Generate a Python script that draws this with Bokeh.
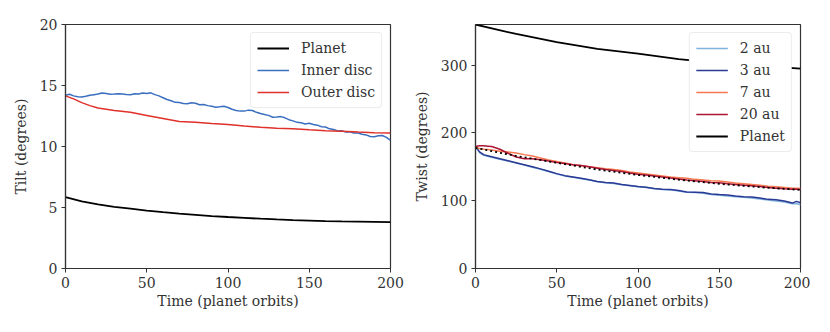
from bokeh.plotting import figure
from bokeh.layouts import row
from bokeh.models import Legend, LegendItem, FixedTicker
from bokeh.embed import file_html
from bokeh.resources import INLINE

# ---------------- data: tilt (left panel) ----------------
t_planet_tilt = [0, 10, 20, 30, 40, 50, 60, 70, 80, 90, 100, 110, 120, 130, 140, 150, 160, 170, 180, 190, 200]
tilt_planet = [5.85, 5.5, 5.25, 5.05, 4.9, 4.75, 4.62, 4.5, 4.4, 4.3, 4.22, 4.15, 4.08, 4.02, 3.97, 3.93, 3.89, 3.86, 3.84, 3.82, 3.8]

t_outer = [0, 5, 10, 15, 20, 25, 30, 40, 50, 60, 70, 80, 90, 100, 110, 120, 130, 140, 150, 160, 170, 180, 190, 200]
tilt_outer = [14.15, 13.9, 13.6, 13.35, 13.15, 13.05, 12.95, 12.8, 12.55, 12.3, 12.05, 11.98, 11.88, 11.8, 11.68, 11.58, 11.5, 11.45, 11.37, 11.3, 11.25, 11.18, 11.13, 11.1]

t_inner = [i * 2.5 for i in range(81)]
tilt_inner = [14.20, 14.28, 14.15, 14.08, 14.05, 14.12, 14.20, 14.25, 14.30, 14.38,
              14.35, 14.28, 14.30, 14.33, 14.30, 14.27, 14.25, 14.32, 14.30, 14.38,
              14.35, 14.40, 14.25, 14.15, 14.00, 13.85, 13.75, 13.62, 13.60, 13.52,
              13.50, 13.58, 13.55, 13.42, 13.45, 13.35, 13.30, 13.22, 13.25, 13.30,
              13.20, 13.05, 12.95, 12.90, 12.90, 12.98, 12.95, 12.80, 12.70, 12.62,
              12.55, 12.40, 12.42, 12.45, 12.35, 12.20, 12.10, 11.98, 11.95, 11.85,
              11.90, 11.80, 11.75, 11.62, 11.60, 11.45, 11.40, 11.28, 11.30, 11.18,
              11.20, 11.10, 11.10, 11.00, 10.95, 10.82, 10.80, 10.88, 10.90, 10.75,
              10.50]

# ---------------- data: twist (right panel) ----------------
t_twist = [0, 2.5, 5, 7.5, 10] + list(range(15, 200, 5)) + [197.5, 200]
twist_2au = [180, 171, 167, 165.5, 164, 161, 158.5, 155.5, 152.5, 149.5, 146.5, 143, 139.5, 136.5, 134.5,
             132.5, 130.5, 128, 126.5, 125.5, 123.5, 122, 120.5, 119.5, 117.5, 116.5, 116, 114.5, 112.5, 112,
             111, 109, 108, 107, 106, 105, 104, 102.5, 101, 99.5, 98, 95.5, 96, 94]
twist_3au = [180, 172, 168, 166.5, 165, 162, 159, 156, 153, 150, 147, 143.5, 140, 137, 135,
             133, 131, 128.5, 127, 126, 124, 122.5, 121, 120, 118, 117, 116.5, 115, 113, 112.5,
             112, 110, 109, 108.5, 107, 106, 105.5, 104, 102, 101.5, 99.5, 96.5, 99, 97]
twist_7au = [178, 177, 176, 175.5, 175, 173, 172, 170.5, 168, 166, 163, 160, 158, 155.5, 153,
             151.5, 150, 148.5, 147, 146, 144.5, 142.5, 141, 139.5, 138, 136.5, 135, 134, 133, 131.5,
             130.5, 129.5, 129, 127.5, 126, 125, 124, 123, 121.5, 120.5, 119.5, 118.5, 118.5, 118]
twist_20au = [180, 181, 181, 180.5, 180, 176, 170, 164.5, 162, 162, 160.5, 158.5, 156.5, 155, 153,
              152, 150, 148, 146, 144.5, 143, 141, 139, 138, 136.5, 135, 133.5, 132, 130.5, 129.5,
              128.5, 127, 126.5, 125, 124, 123, 122, 121, 119.5, 118.5, 117.5, 117, 117, 116.5]

t_fit = [0, 25, 50, 75, 100, 125, 150, 175, 200]
twist_fit = [178, 166, 156, 146, 138, 131, 125, 120, 116]

t_planet_twist = [0, 25, 50, 75, 100, 125, 150, 175, 200]
twist_planet = [360, 346, 334, 324, 317, 309, 303, 299, 295]

x_ticks = [0, 50, 100, 150, 200]
tilt_ticks = [0, 5, 10, 15, 20]
twist_ticks = [0, 100, 200, 300]

FONT = "DejaVu Serif"
FS = "14px"
TXT = "#333333"


def style(p, yticks, ylabel):
    p.xaxis.ticker = FixedTicker(ticks=x_ticks)
    p.yaxis.ticker = FixedTicker(ticks=yticks)
    p.xaxis.axis_label = "Time (planet orbits)"
    p.yaxis.axis_label = ylabel
    for ax in (p.xaxis[0], p.yaxis[0]):
        ax.axis_label_text_font = FONT
        ax.axis_label_text_font_size = FS
        ax.axis_label_text_font_style = "normal"
        ax.axis_label_text_color = TXT
        ax.major_label_text_font = FONT
        ax.major_label_text_font_size = FS
        ax.major_label_text_color = TXT
        ax.major_tick_in = 0
        ax.major_tick_out = 4
        ax.minor_tick_in = 0
        ax.minor_tick_out = 0
        ax.axis_line_color = "#333333"
        ax.major_tick_line_color = "#333333"
        ax.axis_line_width = 1.2
    p.xaxis.axis_label_standoff = 2
    p.yaxis.axis_label_standoff = 8
    p.xaxis.major_label_standoff = 4
    p.yaxis.major_label_standoff = 4
    p.xgrid.visible = False
    p.ygrid.visible = False
    p.outline_line_color = "#333333"
    p.outline_line_width = 1.2
    p.outline_line_alpha = 1.0


def make_legend(p, items):
    lg = Legend(items=items, location="top_right")
    lg.label_text_font = FONT
    lg.label_text_font_size = FS
    lg.label_text_color = TXT
    lg.border_line_color = "#d9d9d9"
    lg.border_line_width = 1
    lg.border_radius = 4
    lg.background_fill_alpha = 1.0
    lg.glyph_width = 32
    lg.glyph_height = 18
    lg.label_height = 18
    lg.label_standoff = 12
    lg.spacing = 4
    lg.padding = 6
    lg.margin = 8
    p.add_layout(lg)


# ---------------- left panel ----------------
p1 = figure(width=410, height=318, output_backend="svg", toolbar_location=None,
            x_range=(0, 200), y_range=(0, 20),
            min_border_left=65, min_border_right=20, min_border_top=24, min_border_bottom=50)
r_p = p1.line(t_planet_tilt, tilt_planet, line_color="black", line_width=1.8)
r_i = p1.line(t_inner, tilt_inner, line_color="#3a6fc0", line_width=1.5)
r_o = p1.line(t_outer, tilt_outer, line_color="#e0302a", line_width=1.5)
style(p1, tilt_ticks, "Tilt (degrees)")
make_legend(p1, [LegendItem(label="Planet", renderers=[r_p]),
                 LegendItem(label="Inner disc", renderers=[r_i]),
                 LegendItem(label="Outer disc", renderers=[r_o])])

# ---------------- right panel ----------------
p2 = figure(width=400, height=318, output_backend="svg", toolbar_location=None,
            x_range=(0, 200), y_range=(0, 360),
            min_border_left=65, min_border_right=10, min_border_top=24, min_border_bottom=50)
r2 = p2.line(t_twist, twist_2au, line_color="#7fb2dd", line_width=1.5)
r3 = p2.line(t_twist, twist_3au, line_color="#2b3a94", line_width=1.5)
r7 = p2.line(t_twist, twist_7au, line_color="#f7794f", line_width=1.5)
r20 = p2.line(t_twist, twist_20au, line_color="#ad1535", line_width=1.5)
p2.line(t_fit, twist_fit, line_color="black", line_width=1.8, line_dash="2 3")
rp = p2.line(t_planet_twist, twist_planet, line_color="black", line_width=1.8)
style(p2, twist_ticks, "Twist (degrees)")
make_legend(p2, [LegendItem(label="2 au", renderers=[r2]),
                 LegendItem(label="3 au", renderers=[r3]),
                 LegendItem(label="7 au", renderers=[r7]),
                 LegendItem(label="20 au", renderers=[r20]),
                 LegendItem(label="Planet", renderers=[rp])])

layout = row(p1, p2)
open("out.html", "w").write(file_html(layout, INLINE))
